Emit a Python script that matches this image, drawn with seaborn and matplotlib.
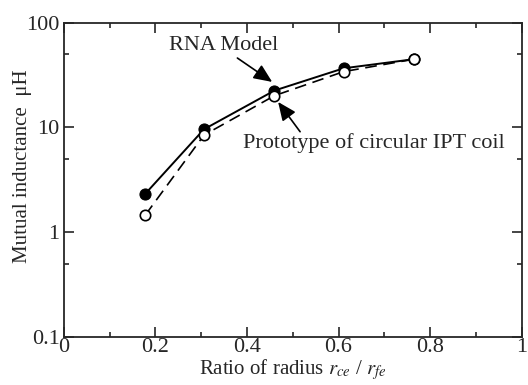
import numpy as np
import pandas as pd
import matplotlib
matplotlib.use('Agg')
import matplotlib.pyplot as plt
import seaborn as sns
from matplotlib.ticker import FixedLocator, NullFormatter, MultipleLocator, FuncFormatter

ratio = [0.178, 0.306, 0.460, 0.611, 0.764]
rna_model = [2.33, 9.6, 22.5, 36.7, 44.8]
prototype = [1.46, 8.45, 20.1, 34.1, 44.8]

sns.set_style('ticks')
plt.rcParams['font.family'] = ['Liberation Serif', 'DejaVu Serif']
plt.rcParams['mathtext.fontset'] = 'stix'

fig = plt.figure(figsize=(5.28, 3.85), dpi=100)
ax = fig.add_axes([0.121, 0.125, 0.867, 0.816])

df = pd.DataFrame({'ratio': ratio, 'rna': rna_model, 'proto': prototype})

sns.lineplot(data=df, x='ratio', y='proto', ax=ax, color='black', lw=1.2,
             linestyle=(0, (7, 4)), marker='o', markersize=7.5,
             markerfacecolor='white', markeredgecolor='black', markeredgewidth=1.2,
             zorder=2)
sns.lineplot(data=df, x='ratio', y='rna', ax=ax, color='black', lw=1.4,
             marker='o', markersize=8, markerfacecolor='black',
             markeredgecolor='black', zorder=1)

ax.set_yscale('log')
ax.set_xlim(0, 1)
ax.set_ylim(0.1, 100)
ax.xaxis.set_major_locator(MultipleLocator(0.2))
ax.xaxis.set_minor_locator(MultipleLocator(0.1))
ax.xaxis.set_major_formatter(FuncFormatter(lambda v, p: f'{v:g}'))
ax.yaxis.set_major_locator(FixedLocator([0.1, 1, 10, 100]))
ax.yaxis.set_minor_locator(FixedLocator([0.5, 5, 50]))
ax.yaxis.set_minor_formatter(NullFormatter())
ax.yaxis.set_major_formatter(FuncFormatter(lambda v, p: f'{v:g}'))

ax.tick_params(which='both', direction='in', top=True, right=True,
               width=1.2, labelsize=16)
ax.tick_params(axis='x', pad=1)
ax.tick_params(axis='y', pad=3)
ax.tick_params(which='major', length=7)
ax.tick_params(which='minor', length=3.5)
for s in ax.spines.values():
    s.set_linewidth(1.3)

ax.set_xlabel('Ratio of radius $r_{ce}$ / $r_{fe}$', fontsize=15, labelpad=0)
ax.set_ylabel('Mutual inductance  μH', fontsize=15)
ax.yaxis.set_label_coords(-0.07, 0.544)

# labels and arrows
ax.text(0.35, 61, 'RNA Model', fontsize=16, ha='center', va='center')
ax.text(0.677, 7.1, 'Prototype of circular IPT coil', fontsize=16,
        ha='center', va='center')
arrow = dict(arrowstyle='-|>,head_length=0.8,head_width=0.35', color='black',
             lw=1.2, mutation_scale=14, shrinkA=0, shrinkB=0)
ax.annotate('', xy=(0.455, 27.2), xytext=(0.379, 46), arrowprops=arrow)
ax.annotate('', xy=(0.468, 17.5), xytext=(0.516, 9.1), arrowprops=arrow)

fig.savefig('out.png', dpi=100)
